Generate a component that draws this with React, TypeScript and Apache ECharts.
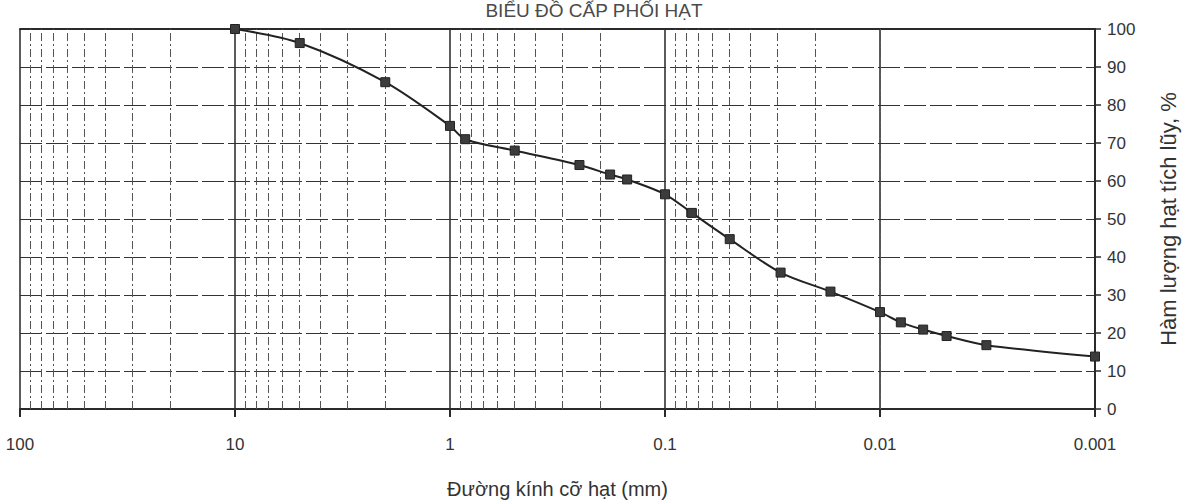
import React, { useEffect, useRef } from "react";
import * as echarts from "echarts";

// Grain diameter (mm) and cumulative percentage
const DIAMETERS = [10, 5, 2, 1, 0.85, 0.5, 0.25, 0.18, 0.15, 0.1, 0.075, 0.05, 0.029, 0.017, 0.01, 0.008, 0.0063, 0.0049, 0.0032, 0.001];
const PERCENTS = [100, 96.3, 86, 74.5, 71, 68, 64.2, 61.7, 60.4, 56.5, 51.6, 44.7, 35.9, 30.9, 25.5, 22.8, 20.9, 19.2, 16.8, 13.8];

// Decade starts for minor (2..9) log gridlines
const DECADES = [0.001, 0.01, 0.1, 1, 10];
const MINOR_MULTS = [2, 3, 4, 5, 6, 7, 8, 9];

const TITLE = "BIỂU ĐỒ CẤP PHỐI HẠT";
const X_NAME = "Đường kính cỡ hạt (mm)";
const Y_NAME = "Hàm lượng hạt tích lũy, %";

const FONT = "'Liberation Sans', Arial, sans-serif";

export default function App() {
  const ref = useRef<HTMLDivElement>(null);

  useEffect(() => {
    if (!ref.current) return;
    const chart = echarts.init(ref.current, undefined, { renderer: "svg" });

    const minorLines: any[] = [];
    DECADES.forEach((d) => {
      MINOR_MULTS.forEach((m) => {
        minorLines.push({ xAxis: +(d * m).toPrecision(6) });
      });
    });

    const fmt = (v: number) => String(Number(Number(v).toPrecision(6)));

    chart.setOption({
      animation: false,
      backgroundColor: "#ffffff",
      textStyle: { fontFamily: FONT },
      grid: { left: 20, right: 83, top: 29, bottom: 90, containLabel: false },
      graphic: [
        {
          type: "text",
          x: 594,
          y: 1,
          style: {
            text: TITLE,
            fill: "#4a4a4a",
            font: `19px ${FONT}`,
            textAlign: "center",
            textVerticalAlign: "top",
          },
        },
      ],
      xAxis: [
        {
          type: "log",
          logBase: 10,
          min: 0.001,
          max: 100,
          inverse: true,
          position: "bottom",
          name: X_NAME,
          nameLocation: "middle",
          nameGap: 70,
          nameTextStyle: { fontSize: 20, color: "#333", fontFamily: FONT },
          axisLine: { show: true, lineStyle: { color: "#2a2a2a", width: 2 } },
          axisTick: { show: true, length: 8, lineStyle: { color: "#2a2a2a", width: 2 } },
          axisLabel: { formatter: fmt, fontSize: 17, color: "#333", margin: 27, fontFamily: FONT },
          splitLine: { show: true, lineStyle: { color: "#333", width: 1.6, type: "solid" } },
          minorTick: { show: false },
        },
        {
          type: "log",
          logBase: 10,
          min: 0.001,
          max: 100,
          inverse: true,
          position: "top",
          axisLine: { show: true, lineStyle: { color: "#2a2a2a", width: 2 } },
          axisTick: { show: false },
          axisLabel: { show: false },
          splitLine: { show: false },
        },
      ],
      yAxis: {
        type: "value",
        position: "right",
        min: 0,
        max: 100,
        interval: 10,
        name: Y_NAME,
        nameLocation: "middle",
        nameRotate: 90,
        nameGap: 62,
        nameTextStyle: { fontSize: 22, color: "#333", fontFamily: FONT },
        axisLine: { show: true, lineStyle: { color: "#2a2a2a", width: 2 } },
        axisTick: { show: true, length: 6, lineStyle: { color: "#2a2a2a", width: 1.5 } },
        axisLabel: { fontSize: 17, color: "#333", margin: 12, fontFamily: FONT },
        splitLine: { show: true, lineStyle: { color: "#333", width: 1.2, type: [22, 4] } },
      },
      series: [
        {
          type: "line",
          xAxisIndex: 0,
          data: DIAMETERS.map((d, i) => [d, PERCENTS[i]]),
          smooth: 0.3,
          symbol: "rect",
          symbolSize: 9,
          itemStyle: { color: "#3c3c3c", borderColor: "#222", borderWidth: 1 },
          lineStyle: { color: "#222", width: 2 },
          z: 5,
          markLine: {
            silent: true,
            symbol: ["none", "none"],
            label: { show: false },
            lineStyle: { color: "#555", width: 1, type: [8, 3, 2, 3] },
            data: minorLines,
            z: 1,
          },
        },
      ],
    });

    return () => chart.dispose();
  }, []);

  return (
    <div
      ref={ref}
      style={{ position: "absolute", left: 0, top: 0, width: 1187, height: 504 }}
    />
  );
}
